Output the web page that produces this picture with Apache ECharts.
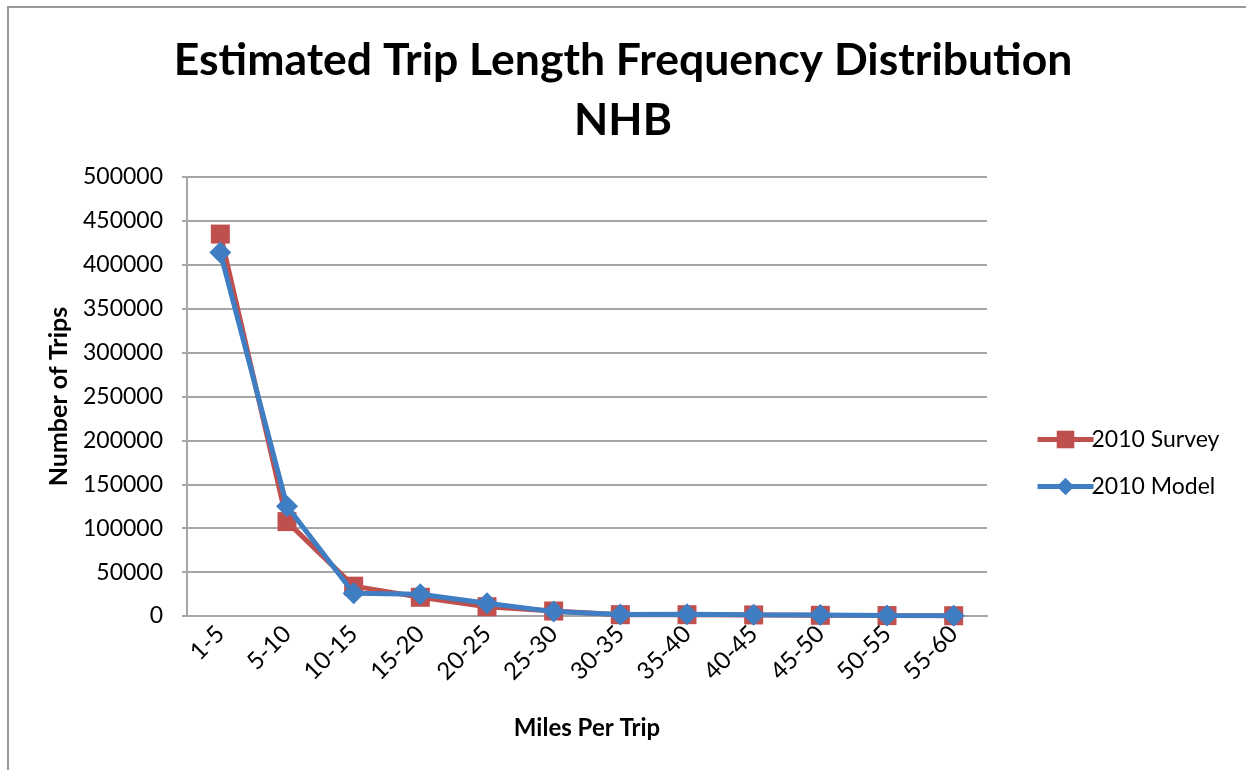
<!DOCTYPE html>
<html>
<head>
<meta charset="utf-8">
<script src="https://cdn.jsdelivr.net/npm/echarts@6/dist/echarts.min.js"></script>
<style>
  html, body { margin: 0; padding: 0; background: #fff; }
  #chart { width: 1246px; height: 770px; }
</style>
</head>
<body>
<div id="chart"></div>
<script>
// Trip length bins (miles per trip)
const categories = ['1-5', '5-10', '10-15', '15-20', '20-25', '25-30', '30-35', '35-40', '40-45', '45-50', '50-55', '55-60'];
// Observed trips from the 2010 household survey
const surveyTrips = [435000, 107500, 34000, 21300, 10600, 5700, 1500, 1500, 1200, 800, 500, 300];
// Trips estimated by the 2010 model
const modelTrips = [414000, 125000, 26000, 24700, 14500, 5000, 1800, 2000, 1500, 1200, 600, 400];
// Y axis range and step
const yMin = 0, yMax = 500000, yStep = 50000;

const FONT = 'Lato, "Open Sans", sans-serif';
const GRID_GRAY = '#a6a6a6';
const RED = '#c0504d';
const BLUE = '#3f7ec2';

const chart = echarts.init(document.getElementById('chart'), null, { renderer: 'canvas' });
chart.setOption({
  backgroundColor: '#ffffff',
  animation: false,
  title: {
    text: 'Estimated Trip Length Frequency Distribution\nNHB',
    left: 'center',
    top: 26,
    textStyle: { fontFamily: FONT, fontWeight: 'bold', fontSize: 44.5, lineHeight: 60, color: '#000' }
  },
  graphic: [
    { type: 'line', shape: { x1: 8, y1: 6, x2: 8, y2: 770 }, style: { stroke: '#999', lineWidth: 2 } },
    { type: 'line', shape: { x1: 7, y1: 7, x2: 1246, y2: 7 }, style: { stroke: '#999', lineWidth: 2 } }
  ],
  legend: {
    orient: 'vertical',
    left: 1030,
    top: 423,
    itemGap: 24,
    itemWidth: 56,
    itemHeight: 22,
    textStyle: { fontFamily: FONT, fontSize: 23, color: '#000', padding: [0, 0, 0, -7] },
    data: [
      { name: '2010 Survey', lineStyle: { width: 5, color: RED } },
      { name: '2010 Model', lineStyle: { width: 5, color: BLUE } }
    ]
  },
  grid: { left: 187, right: 259, top: 177, bottom: 154, containLabel: false },
  xAxis: {
    type: 'category',
    data: categories,
    boundaryGap: true,
    name: 'Miles Per Trip',
    nameLocation: 'middle',
    nameGap: 100,
    nameTextStyle: { fontFamily: FONT, fontWeight: 'bold', fontSize: 24, color: '#000' },
    axisLine: { lineStyle: { color: GRID_GRAY, width: 2 } },
    axisTick: { show: false },
    axisLabel: { rotate: 45, margin: 14, fontFamily: FONT, fontSize: 24, color: '#000' }
  },
  yAxis: {
    type: 'value',
    min: yMin,
    max: yMax,
    interval: yStep,
    name: 'Number of Trips',
    nameLocation: 'middle',
    nameGap: 116,
    nameTextStyle: { fontFamily: FONT, fontWeight: 'bold', fontSize: 25, color: '#000' },
    axisLine: { show: true, lineStyle: { color: GRID_GRAY, width: 2 } },
    axisTick: { show: true, length: 5, lineStyle: { color: GRID_GRAY, width: 2 } },
    axisLabel: { margin: 24, fontFamily: FONT, fontSize: 23, color: '#000', formatter: v => String(v) },
    splitLine: { lineStyle: { color: GRID_GRAY, width: 2 } }
  },
  series: [
    {
      name: '2010 Survey',
      type: 'line',
      data: surveyTrips,
      symbol: 'rect',
      symbolSize: 19,
      lineStyle: { color: RED, width: 5 },
      itemStyle: { color: RED },
      z: 2
    },
    {
      name: '2010 Model',
      type: 'line',
      data: modelTrips,
      symbol: 'diamond',
      symbolSize: [22, 22],
      lineStyle: { color: BLUE, width: 5 },
      itemStyle: { color: BLUE },
      z: 3
    }
  ]
});
</script>
</body>
</html>
